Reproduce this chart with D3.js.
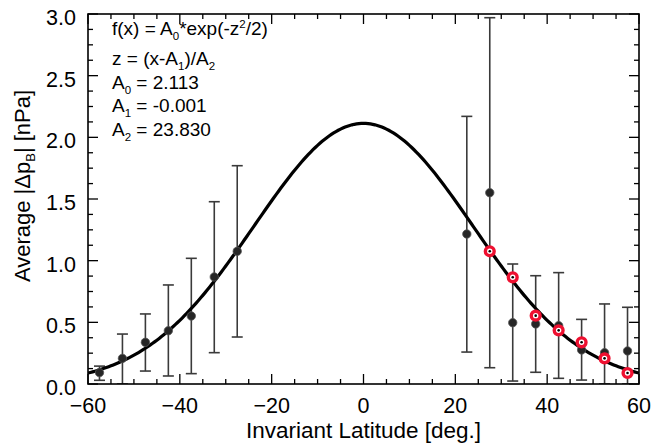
<!DOCTYPE html>
<html>
<head>
<meta charset="utf-8">
<script src="https://cdn.jsdelivr.net/npm/d3@7"></script>
<style>
  html, body { margin: 0; padding: 0; background: #fff; }
  svg { display: block; font-family: "Liberation Sans", Arial, Helvetica, sans-serif; }
</style>
</head>
<body>
<div id="chart"></div>
<script>
// Average |Δp_B| vs invariant latitude, gaussian fit
const southLat  = [-57.5, -52.5, -47.5, -42.5, -37.5, -32.5, -27.5];
const southMean = [0.092, 0.208, 0.338, 0.432, 0.551, 0.868, 1.076];
const southLow  = [0.030, 0.000, 0.105, 0.065, 0.084, 0.254, 0.381];
const southHigh = [0.145, 0.405, 0.568, 0.803, 1.019, 1.478, 1.770];

const northLat  = [22.5, 27.5, 32.5, 37.5, 42.5, 47.5, 52.5, 57.5];
const northMean = [1.216, 1.551, 0.497, 0.487, 0.473, 0.276, 0.254, 0.268];
const northLow  = [0.259, 0.132, 0.024, 0.095, 0.046, 0.032, 0.000, 0.000];
const northHigh = [2.170, 2.970, 0.973, 0.878, 0.903, 0.524, 0.649, 0.622];

// southern values mirrored onto northern latitudes (red rings)
const mirrorLat  = [27.5, 32.5, 37.5, 42.5, 47.5, 52.5, 57.5];
const mirrorMean = [1.076, 0.865, 0.554, 0.435, 0.338, 0.208, 0.089];

// fit parameters A0, A1, A2
const fitParams = [2.113, -0.001, 23.830];

const xTicks = [-60, -40, -20, 0, 20, 40, 60];
const yTicks = [0.0, 0.5, 1.0, 1.5, 2.0, 2.5, 3.0];

const width = 654, height = 443;
const margin = { top: 14, right: 15, bottom: 59, left: 88 };
const iw = width - margin.left - margin.right;
const ih = height - margin.top - margin.bottom;

const svg = d3.select('#chart').append('svg')
  .attr('width', width)
  .attr('height', height);

const g = svg.append('g').attr('transform', `translate(${margin.left},${margin.top})`);

const x = d3.scaleLinear().domain([-60, 60]).range([0, iw]);
const y = d3.scaleLinear().domain([0, 3]).range([ih, 0]);

svg.append('clipPath').attr('id', 'plotclip')
  .append('rect').attr('width', iw).attr('height', ih);

// ticks (inward on all four sides)
const xMinor = d3.range(-60, 60.1, 5);
const yMinor = d3.range(0, 3.01, 0.125);
const major = 10, minor = 5;
const isMajorX = v => Math.abs(v % 20) < 1e-6;
const isMajorY = v => Math.abs((v * 2) - Math.round(v * 2)) < 1e-6;

const tickG = g.append('g').attr('stroke', '#000').attr('stroke-width', 1.3);
xMinor.forEach(v => {
  const len = isMajorX(v) ? major : minor;
  tickG.append('line').attr('x1', x(v)).attr('x2', x(v)).attr('y1', ih).attr('y2', ih - len);
  tickG.append('line').attr('x1', x(v)).attr('x2', x(v)).attr('y1', 0).attr('y2', len);
});
yMinor.forEach(v => {
  const len = isMajorY(v) ? major : minor;
  tickG.append('line').attr('x1', 0).attr('x2', len).attr('y1', y(v)).attr('y2', y(v));
  tickG.append('line').attr('x1', iw).attr('x2', iw - len).attr('y1', y(v)).attr('y2', y(v));
});

// tick labels
g.append('g').selectAll('text').data(xTicks).join('text')
  .attr('x', d => x(d))
  .attr('y', ih + 29)
  .attr('text-anchor', 'middle')
  .attr('font-size', 21.5)
  .text(d => d3.format('d')(d));

g.append('g').selectAll('text').data(yTicks).join('text')
  .attr('x', -12)
  .attr('y', d => y(d) + 11)
  .attr('text-anchor', 'end')
  .attr('font-size', 21.5)
  .text(d => d.toFixed(1));

// axis titles
g.append('text')
  .attr('x', iw / 2)
  .attr('y', ih + 54)
  .attr('text-anchor', 'middle')
  .attr('font-size', 22.5)
  .text('Invariant Latitude [deg.]');

const yt = svg.append('text')
  .attr('transform', 'translate(30,186) rotate(-90)')
  .attr('text-anchor', 'middle')
  .attr('font-size', 22);
yt.append('tspan').text('Average |Δp');
yt.append('tspan').attr('font-size', 13).attr('dy', 5).text('B');
yt.append('tspan').attr('dy', -5).text('| [nPa]');

// fitted gaussian
const [A0, A1, A2] = fitParams;
const fitX = d3.range(-60, 60.01, 0.5);
const fitLine = d3.line()
  .x(d => x(d))
  .y(d => y(A0 * Math.exp(-Math.pow((d - A1) / A2, 2) / 2)));

const plot = g.append('g').attr('clip-path', 'url(#plotclip)');

// error bars
const bars = [
  ...southLat.map((v, i) => ({ lat: v, lo: southLow[i], hi: southHigh[i] })),
  ...northLat.map((v, i) => ({ lat: v, lo: northLow[i], hi: northHigh[i] }))
];
const capW = 5.5;
const eb = plot.append('g').attr('stroke', '#3a3a3a').attr('stroke-width', 1.6).attr('fill', 'none');
bars.forEach(b => {
  eb.append('line').attr('x1', x(b.lat)).attr('x2', x(b.lat)).attr('y1', y(b.lo)).attr('y2', y(b.hi));
  eb.append('line').attr('x1', x(b.lat) - capW).attr('x2', x(b.lat) + capW).attr('y1', y(b.hi)).attr('y2', y(b.hi));
  eb.append('line').attr('x1', x(b.lat) - capW).attr('x2', x(b.lat) + capW).attr('y1', y(b.lo)).attr('y2', y(b.lo));
});

plot.append('path')
  .datum(fitX)
  .attr('d', fitLine)
  .attr('fill', 'none')
  .attr('stroke', '#000')
  .attr('stroke-width', 3.2);

// data points
const pts = [
  ...southLat.map((v, i) => ({ lat: v, val: southMean[i] })),
  ...northLat.map((v, i) => ({ lat: v, val: northMean[i] }))
];
plot.append('g').selectAll('circle').data(pts).join('circle')
  .attr('cx', d => x(d.lat))
  .attr('cy', d => y(d.val))
  .attr('r', 4.2)
  .attr('fill', '#262626')
  .attr('stroke', '#555')
  .attr('stroke-width', 0.8);

const mirror = mirrorLat.map((v, i) => ({ lat: v, val: mirrorMean[i] }));
const rg = plot.append('g');
rg.selectAll('circle.ring').data(mirror).join('circle')
  .attr('class', 'ring')
  .attr('cx', d => x(d.lat))
  .attr('cy', d => y(d.val))
  .attr('r', 4.4)
  .attr('fill', '#fff')
  .attr('stroke', '#ee1030')
  .attr('stroke-width', 3.4);
rg.selectAll('circle.dot').data(mirror).join('circle')
  .attr('class', 'dot')
  .attr('cx', d => x(d.lat))
  .attr('cy', d => y(d.val))
  .attr('r', 1.3)
  .attr('fill', '#000');

// frame
g.append('rect')
  .attr('width', iw).attr('height', ih)
  .attr('fill', 'none')
  .attr('stroke', '#000')
  .attr('stroke-width', 1.6);

// fit annotation
const annoLines = [
  { base: 35, parts: [['f(x) = A'], ['0', 'sub'], ['*exp(-z'], ['2', 'sup'], ['/2)']] },
  { base: 65, parts: [['z = (x-A'], ['1', 'sub'], [')/A'], ['2', 'sub']] },
  { base: 89, parts: [['A'], ['0', 'sub'], [' = ' + A0.toFixed(3)]] },
  { base: 112.3, parts: [['A'], ['1', 'sub'], [' = ' + A1.toFixed(3)]] },
  { base: 135.6, parts: [['A'], ['2', 'sub'], [' = ' + A2.toFixed(3)]] }
];
annoLines.forEach(line => {
  const t = svg.append('text')
    .attr('x', 112)
    .attr('y', line.base)
    .attr('font-size', 19)
    .attr('xml:space', 'preserve');
  let shift = 0;
  line.parts.forEach(([txt, kind]) => {
    const target = kind === 'sub' ? 5 : kind === 'sup' ? -7 : 0;
    const ts = t.append('tspan').attr('dy', target - shift).text(txt);
    if (kind) ts.attr('font-size', 11.5);
    shift = target;
  });
});
</script>
</body>
</html>
